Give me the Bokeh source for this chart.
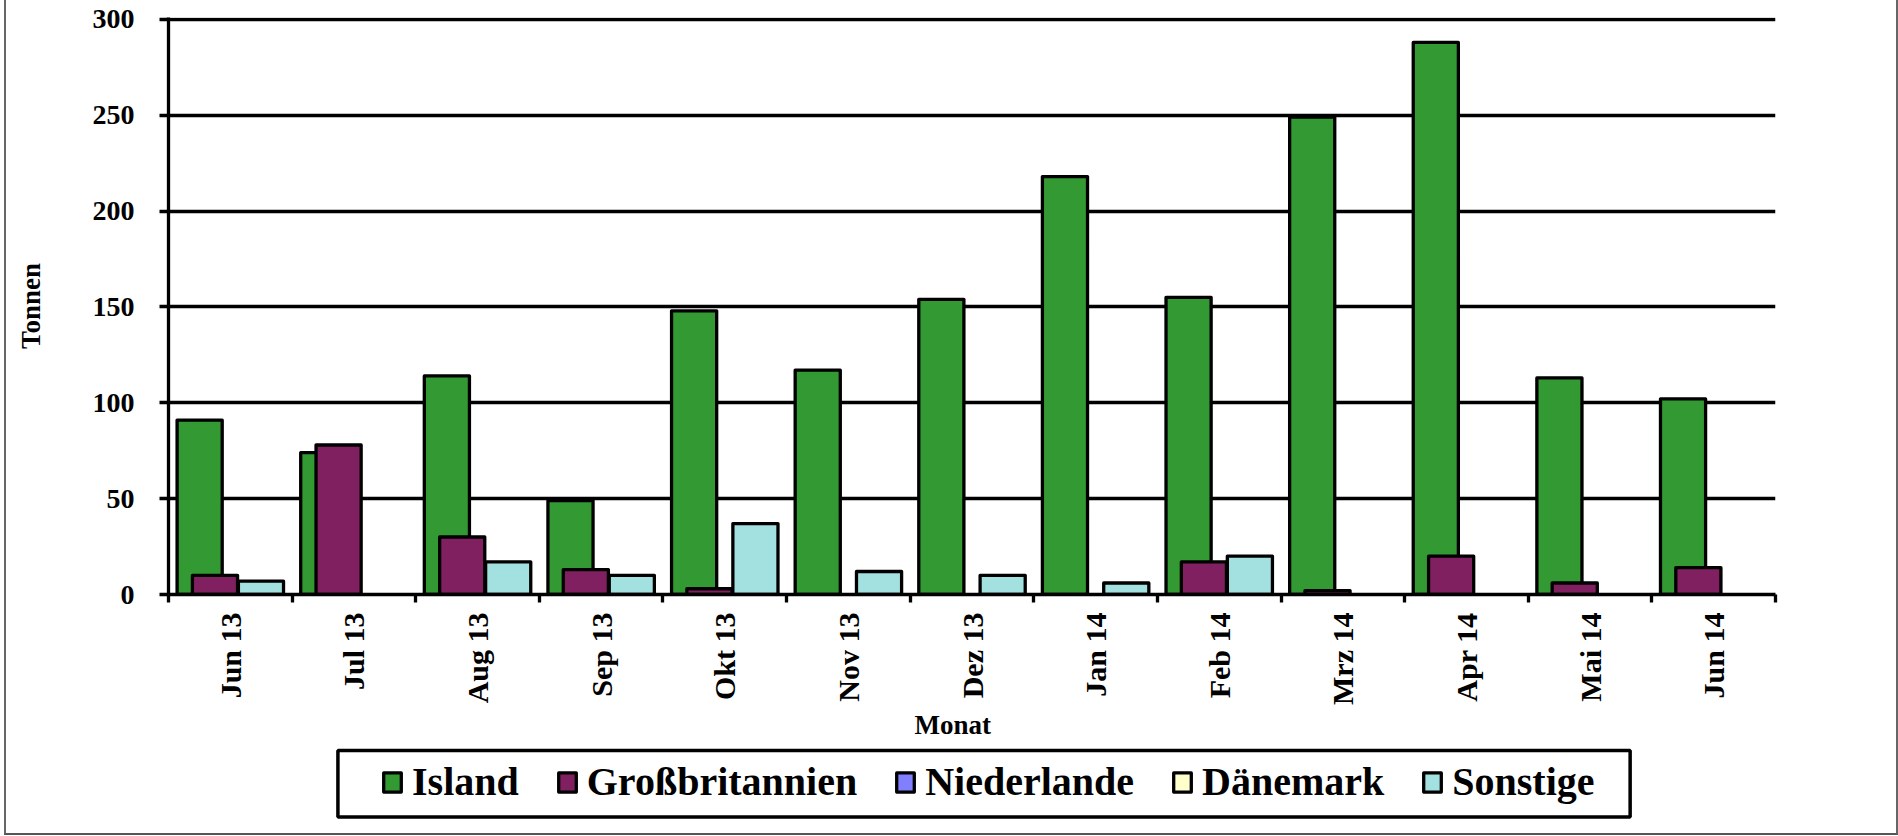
import math
from bokeh.plotting import figure
from bokeh.layouts import column
from bokeh.models import (Range1d, FixedTicker, Legend, LegendItem, ColumnDataSource,
                          BoxAnnotation, Title)
from bokeh.embed import file_html
from bokeh.resources import INLINE

months = ["Jun 13", "Jul 13", "Aug 13", "Sep 13", "Okt 13", "Nov 13", "Dez 13",
          "Jan 14", "Feb 14", "Mrz 14", "Apr 14", "Mai 14", "Jun 14"]
island = [91, 74, 114, 49, 148, 117, 154, 218, 155, 249, 288, 113, 102]
grossbritannien = [10, 78, 30, 13, 3, 0, 0, 0, 17, 2, 20, 6, 14]
niederlande = [0, 0, 0, 0, 0, 0, 0, 0, 0, 0, 0, 0, 0]
daenemark = [0, 0, 0, 0, 0, 0, 0, 0, 0, 0, 0, 0, 0]
sonstige = [7, 0, 17, 10, 37, 12, 10, 6, 20, 0, 0, 0, 0]

series_names = ["Island", "Großbritannien", "Niederlande", "Dänemark", "Sonstige"]
series_values = [island, grossbritannien, niederlande, daenemark, sonstige]
series_colors = ["#339933", "#802060", "#8080FF", "#FFFFCC", "#A3E0E0"]
y_ticks = [0, 50, 100, 150, 200, 250, 300]

FONT = "Liberation Serif"
LW = 3.3

# ---------------- main chart ----------------
p = figure(width=1894, height=745, output_backend="svg", toolbar_location=None,
           x_range=Range1d(-0.5, len(months) - 0.5), y_range=Range1d(0, 301),
           min_border_left=162, min_border_right=125, min_border_top=17,
           min_border_bottom=151)
p.margin = (0, 0, 0, 4)
p.styles = {"border-left": "2px solid #666666", "border-right": "2px solid #666666"}
p.outline_line_color = None
p.background_fill_color = "white"
p.border_fill_color = "white"

step = 0.124
bar_w = 0.365
idx = list(range(len(months)))
full_sources = []
for k, (name, vals, col) in enumerate(zip(series_names, series_values, series_colors)):
    xs = [i + (k - 2) * step for i in idx]
    full_sources.append(ColumnDataSource(dict(x=xs, top=vals)))
    shown = [(x, v) for x, v in zip(xs, vals) if v > 0]
    src = ColumnDataSource(dict(x=[s[0] for s in shown], top=[s[1] for s in shown]))
    p.vbar(x="x", top="top", bottom=0, width=bar_w, source=src,
           fill_color=col, line_color="black", line_width=LW, line_join="round")

p.xgrid.visible = False
p.ygrid.grid_line_color = "black"
p.ygrid.grid_line_width = LW
p.ygrid.ticker = FixedTicker(ticks=y_ticks)

ya = p.yaxis[0]
ya.ticker = FixedTicker(ticks=y_ticks)
ya.axis_line_width = LW
ya.axis_line_color = "black"
ya.major_tick_line_width = LW
ya.major_tick_out = 9
ya.major_tick_in = 0
ya.minor_tick_line_color = None
ya.major_label_text_font = FONT
ya.major_label_text_font_style = "bold"
ya.major_label_text_font_size = "28px"
ya.major_label_text_color = "black"
ya.major_label_standoff = 25
ya.axis_label = "Tonnen"
ya.axis_label_text_font = FONT
ya.axis_label_text_font_style = "bold"
ya.axis_label_text_font_size = "27px"
ya.axis_label_text_color = "black"
ya.axis_label_standoff = 44

xa = p.xaxis[0]
xa.ticker = FixedTicker(ticks=idx, minor_ticks=[i - 0.5 for i in range(len(months) + 1)])
xa.major_label_overrides = {i: m for i, m in enumerate(months)}
xa.major_label_orientation = math.pi / 2
xa.axis_line_width = LW
xa.axis_line_color = "black"
xa.major_tick_out = 0
xa.major_tick_in = 0
xa.major_tick_line_color = None
xa.minor_tick_out = 8
xa.minor_tick_in = 0
xa.minor_tick_line_width = LW
xa.minor_tick_line_color = "black"
xa.major_label_text_font = FONT
xa.major_label_text_font_style = "bold"
xa.major_label_text_font_size = "30px"
xa.major_label_text_color = "black"
xa.major_label_standoff = 10

# x-axis title, placed slightly left of centre as in the original
p.add_layout(Title(text="Monat", align="left", offset=746, standoff=0,
                   text_font=FONT, text_font_style="bold", text_font_size="27px",
                   text_color="black"), "below")

# ---------------- legend strip (frame aligned with the chart frame) ----------------
FRAME_W, LEG_H = 1603, 88
q = figure(width=1894, height=LEG_H + 2, output_backend="svg", toolbar_location=None,
           x_range=Range1d(0, FRAME_W), y_range=Range1d(0, LEG_H),
           x_axis_location=None, y_axis_location=None,
           min_border_left=162, min_border_right=125, min_border_top=0,
           min_border_bottom=0)
q.margin = (0, 0, 0, 4)
q.styles = {"border-left": "2px solid #666666", "border-right": "2px solid #666666",
            "border-bottom": "2px solid #555555"}
q.outline_line_color = None
q.xgrid.visible = False
q.ygrid.visible = False
q.background_fill_color = "white"
q.border_fill_color = "white"

items = []
for name, col, src in zip(series_names, series_colors, full_sources):
    r = q.vbar(x="x", top="top", bottom=0, width=bar_w, source=src, visible=False,
               fill_color=col, line_color="black", line_width=LW, line_join="round")
    items.append(LegendItem(label=name, renderers=[r]))

q.add_layout(BoxAnnotation(left=169, right=1458, bottom=18, top=83,
                           fill_color=None, fill_alpha=0,
                           line_color="black", line_width=3.5, line_alpha=1))

legend = Legend(items=items, orientation="horizontal", location=(213, 30),
                label_text_font=FONT, label_text_font_style="bold",
                label_text_font_size="40px", label_text_color="black",
                glyph_width=22, glyph_height=24, label_standoff=9, spacing=37,
                padding=8, margin=0, inactive_fill_alpha=0,
                border_line_color=None, background_fill_alpha=0)
q.add_layout(legend, "center")

layout = column(p, q, spacing=0)
open("out.html", "w").write(file_html(layout, INLINE))
